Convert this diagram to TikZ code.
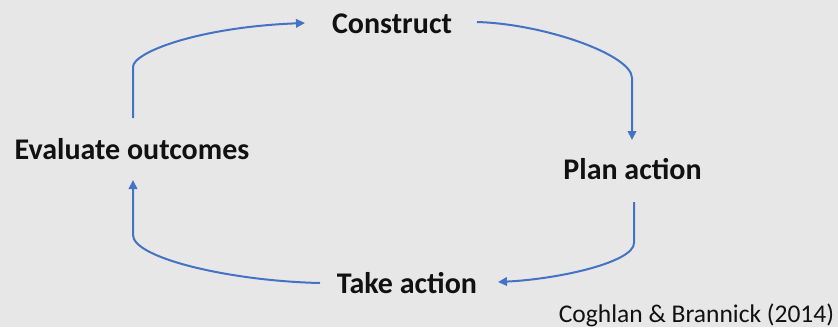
\documentclass[tikz,border=0pt]{standalone}
\usepackage{fontspec}
\setmainfont{Carlito}
\usetikzlibrary{arrows.meta}
\definecolor{bgc}{HTML}{E7E7E7}
\definecolor{arrc}{HTML}{4472C4}
\definecolor{txtc}{HTML}{111111}
\begin{document}
\begin{tikzpicture}[x=1pt,y=-1pt,
  lbl/.style={anchor=base,inner sep=0pt,text=txtc,font=\fontsize{30}{32}\selectfont\bfseries},
  src/.style={anchor=base,inner sep=0pt,text=txtc,font=\fontsize{25.5}{28}\selectfont},
  arr/.style={draw=arrc,line width=2pt,-{Triangle[length=9pt,width=8.5pt]}}]
\fill[bgc] (0,0) rectangle (838,327);
\useasboundingbox (0,0) rectangle (838,327);
\node[lbl] (cons) at (392,33) {Construct};
\node[lbl] (plan) at (632.5,179) {Plan action};
\node[lbl] (take) at (407,293) {Take action};
\node[lbl] (eval) at (132,159) {Evaluate outcomes};
\node[src] (cite) at (696.5,322) {Coghlan \& Brannick (2014)};
\draw[arr] ([shift={(1,-41)}]eval.base) -- (133,67) .. controls (133,52) and (200,27) .. ([shift={(-87,-10)}]cons.base);
\draw[arr] ([shift={(85,-11)}]cons.base) .. controls (545,24) and (632,55) .. (632,78) -- ([shift={(-0.5,-39)}]plan.base);
\draw[arr] ([shift={(1.5,23)}]plan.base) -- (634,243) .. controls (634,262) and (560,279) .. ([shift={(91,-11)}]take.base);
\draw[arr] ([shift={(-87,-10)}]take.base) .. controls (230,281) and (133,258) .. (133,235) -- ([shift={(1,21)}]eval.base);
\end{tikzpicture}
\end{document}
